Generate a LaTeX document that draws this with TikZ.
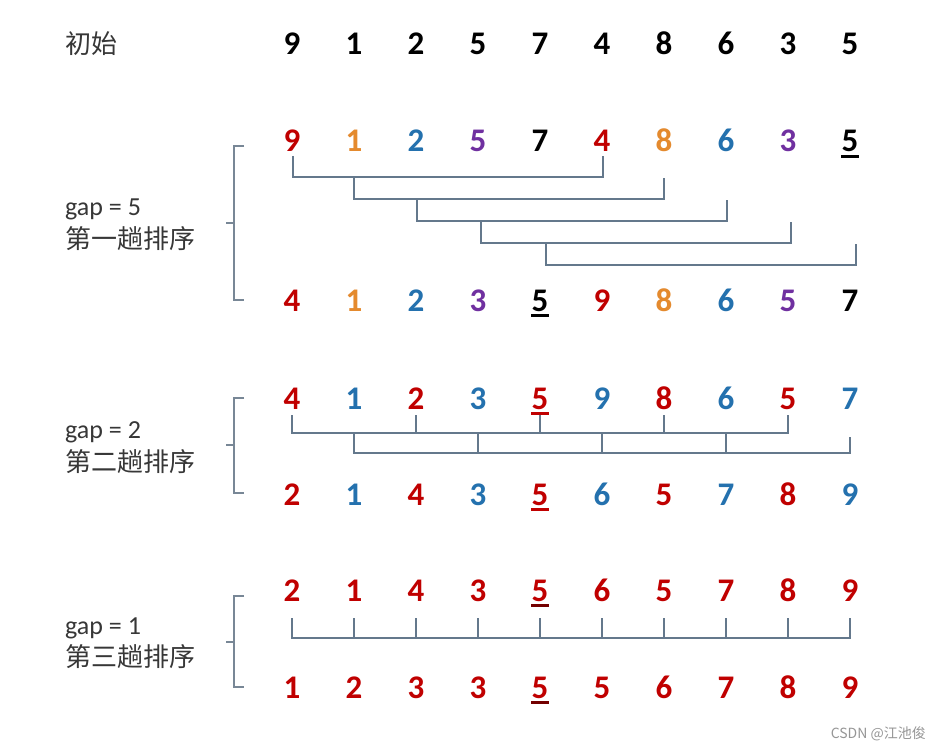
\documentclass[tikz,border=0pt]{standalone}
\usepackage{fontspec}
\setmainfont{Carlito}
\newfontfamily\cjk{Noto Sans CJK SC}
\usetikzlibrary{calc}
\definecolor{cR}{RGB}{192,0,0}
\definecolor{cO}{RGB}{228,138,46}
\definecolor{cB}{RGB}{36,113,174}
\definecolor{cP}{RGB}{112,48,160}
\definecolor{cK}{RGB}{0,0,0}
\definecolor{linec}{RGB}{100,120,140}
\definecolor{bracec}{RGB}{120,135,150}
\definecolor{labc}{RGB}{55,55,55}
\definecolor{wmc}{RGB}{150,150,150}
\tikzset{
  dig/.style={inner sep=0pt, anchor=base, font=\fontsize{33}{33}\selectfont\bfseries},
  latlab/.style={inner sep=0pt, anchor=base west, text=labc, font=\fontsize{26}{26}\selectfont},
  cjklab/.style={inner sep=0pt, anchor=base west, text=labc, font=\fontsize{26}{26}\selectfont\cjk},
  conn/.style={draw=linec, line width=1.4pt},
  bracel/.style={draw=bracec, line width=1.4pt},
  ul/.style={line width=2.6pt}
}
\begin{document}
\begin{tikzpicture}[x=1pt,y=-1pt]
\useasboundingbox[fill=white] (0,0) rectangle (941,751);
% digit rows
\foreach \r/\y/\lst in {
  0/55/{9/cK,1/cK,2/cK,5/cK,7/cK,4/cK,8/cK,6/cK,3/cK,5/cK},
  1/152/{9/cR,1/cO,2/cB,5/cP,7/cK,4/cR,8/cO,6/cB,3/cP,5/cK},
  2/311/{4/cR,1/cO,2/cB,3/cP,5/cK,9/cR,8/cO,6/cB,5/cP,7/cK},
  3/409/{4/cR,1/cB,2/cR,3/cB,5/cR,9/cB,8/cR,6/cB,5/cR,7/cB},
  4/505/{2/cR,1/cB,4/cR,3/cB,5/cR,6/cB,5/cR,7/cB,8/cR,9/cB},
  5/601/{2/cR,1/cR,4/cR,3/cR,5/cR,6/cR,5/cR,7/cR,8/cR,9/cR},
  6/698/{1/cR,2/cR,3/cR,3/cR,5/cR,5/cR,6/cR,7/cR,8/cR,9/cR}}{
  \foreach \d/\c [count=\i from 0] in \lst {
    \node[dig, text=\c] (r\r c\i) at ({292+62*\i},\y) {\d};
  }
}
% underlines
\draw[ul,cK] ($(r1c9.base west)+(0,-4.5pt)$) -- ($(r1c9.base east)+(0,-4.5pt)$);
\draw[ul,cK] ($(r2c4.base west)+(0,-4.5pt)$) -- ($(r2c4.base east)+(0,-4.5pt)$);
\draw[ul,cR] ($(r3c4.base west)+(0,-4.5pt)$) -- ($(r3c4.base east)+(0,-4.5pt)$);
\draw[ul,cR] ($(r4c4.base west)+(0,-4.5pt)$) -- ($(r4c4.base east)+(0,-4.5pt)$);
\draw[ul,cR!60!black] ($(r5c4.base west)+(0,-4.5pt)$) -- ($(r5c4.base east)+(0,-4.5pt)$);
\draw[ul,cR!60!black] ($(r6c4.base west)+(0,-4.5pt)$) -- ($(r6c4.base east)+(0,-4.5pt)$);
% labels
\node[cjklab] (l0) at (65,54) {初始};
\node[latlab] (g5) at (65,215) {gap = 5};
\node[cjklab] (t5) at (65,248) {第一趟排序};
\node[latlab] (g2) at (65,438) {gap = 2};
\node[cjklab] (t2) at (65,471) {第二趟排序};
\node[latlab] (g1) at (65,634) {gap = 1};
\node[cjklab] (t1) at (65,666) {第三趟排序};
% braces
\draw[bracel] (244,146) -- (234,146) -- (234,300) -- (244,300);
\draw[bracel] (234,223) -- (226,223);
\draw[bracel] (244,398) -- (234,398) -- (234,493) -- (244,493);
\draw[bracel] (234,445) -- (226,445);
\draw[bracel] (244,596) -- (234,596) -- (234,687) -- (244,687);
\draw[bracel] (234,642) -- (226,642);
% gap 5 connectors
\foreach \k/\dx [evaluate=\k as \j using int(\k+5), evaluate=\k as \yb using 177+22*\k] in {0/1,1/0,2/1,3/3,4/6} {
  \draw[conn] ($(r1c\k |- 0,{\yb-21})+(\dx pt,0)$) -- ($(r1c\k |- 0,\yb)+(\dx pt,0)$) -- ($(r1c\j |- 0,\yb)+(\dx pt,0)$) -- ($(r1c\j |- 0,{\yb-21})+(\dx pt,0)$);
}
% gap 2 connectors
\draw[conn] (r3c0 |- 0,415) -- (r3c0 |- 0,433) -- (r3c8 |- 0,433) -- (r3c8 |- 0,415);
\foreach \k in {2,4,6} { \draw[conn] (r3c\k |- 0,415) -- (r3c\k |- 0,433); }
\draw[conn] (r3c1 |- 0,433) -- (r3c1 |- 0,453) -- (r3c9 |- 0,453) -- (r3c9 |- 0,437);
\foreach \k in {3,5,7} { \draw[conn] (r3c\k |- 0,433) -- (r3c\k |- 0,453); }
% gap 1 connectors
\draw[conn] (r5c0 |- 0,618) -- (r5c0 |- 0,638) -- (r5c9 |- 0,638) -- (r5c9 |- 0,618);
\foreach \k in {1,...,8} { \draw[conn] (r5c\k |- 0,618) -- (r5c\k |- 0,638); }
% watermark
\node[inner sep=0pt, anchor=base east, text=wmc, font=\fontsize{14}{14}\selectfont\cjk] (wm) at (926,738) {CSDN @江池俊};
\end{tikzpicture}
\end{document}
